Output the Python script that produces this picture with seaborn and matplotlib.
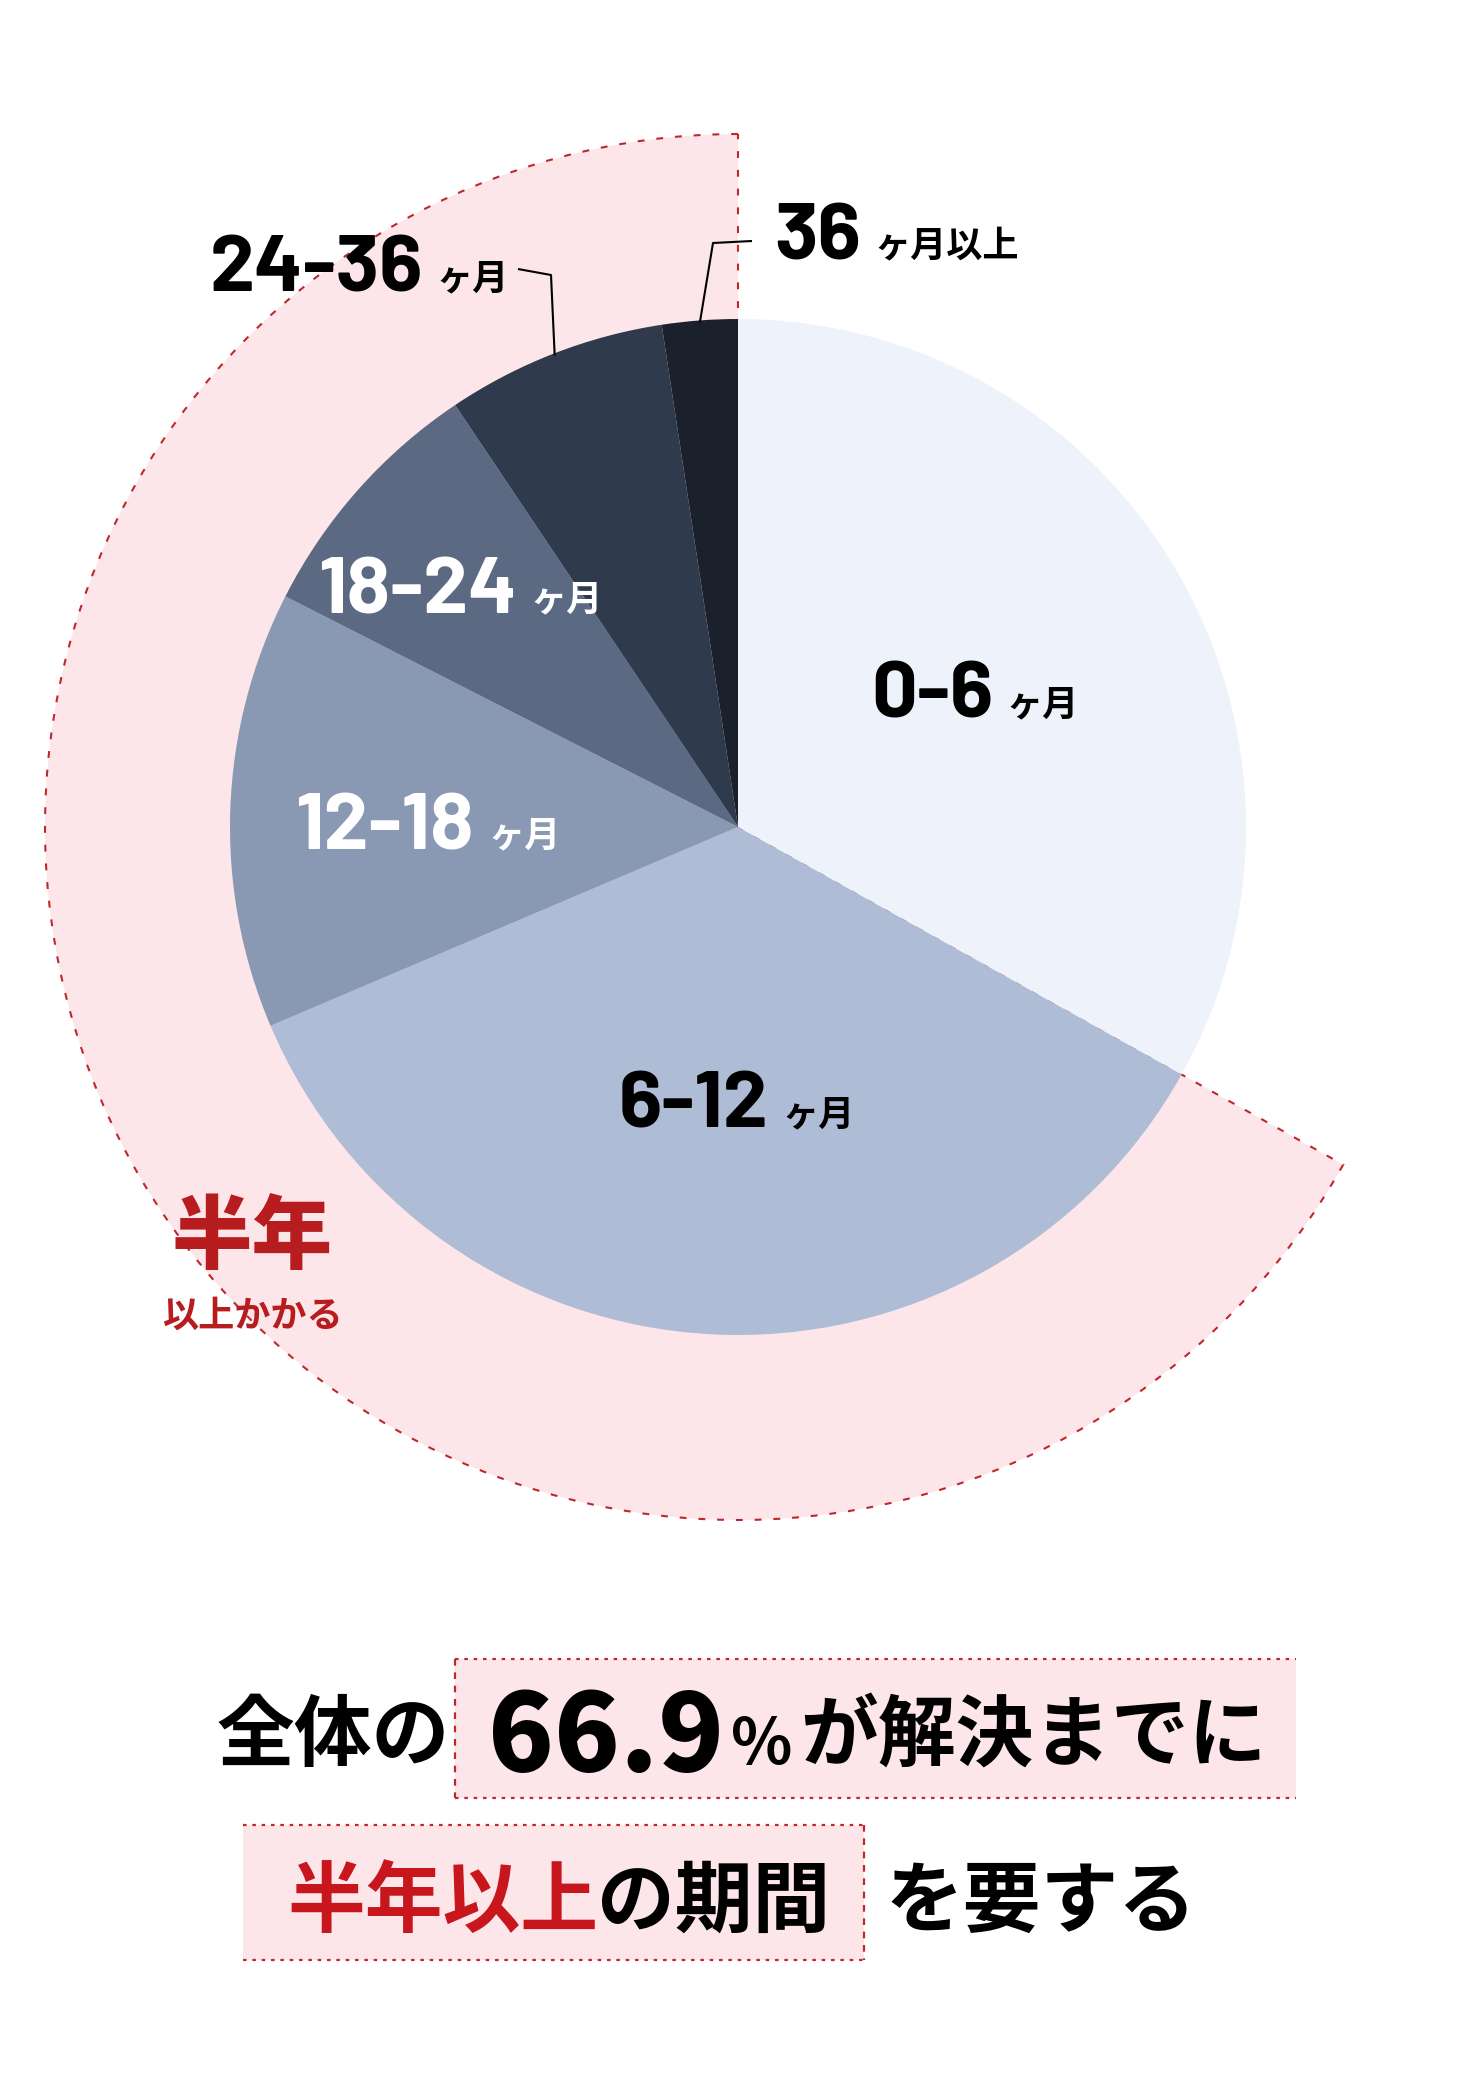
import matplotlib
matplotlib.use("Agg")
import matplotlib.pyplot as plt
from matplotlib.patches import Wedge, Rectangle
import numpy as np
import seaborn as sns

W, H = 1481, 2081

# resolution time buckets (months) and their share of cases, %
periods = ["0-6", "6-12", "12-18", "18-24", "24-36", "36"]
units = ["ヶ月", "ヶ月", "ヶ月", "ヶ月", "ヶ月", "ヶ月以上"]
shares = [33.1, 35.5, 13.9, 8.1, 7.0, 2.4]
slice_colors = ["#eef3fb", "#afbcd5", "#8a99b3", "#5c6982", "#2f3a4c", "#1b212c"]
label_colors = ["black", "black", "white", "white", "black", "black"]

headline_pct = "66.9"

PINK = "#fce6e9"
RED = "#c0272d"
RED_TXT = "#c8161d"

sns.set_theme(style="white")
NUM_FONT = ["Barlow", "Barlow Semi Condensed", "Noto Sans CJK JP", "DejaVu Sans"]
JP_FONT = ["Noto Sans CJK JP", "DejaVu Sans"]
plt.rcParams["font.family"] = JP_FONT

fig = plt.figure(figsize=(W / 100, H / 100), dpi=100)
ax = fig.add_axes([0, 0, 1, 1])

cx, cy = 738, H - 827
R = 508
R_OUT = 693

# pie
wedges, _ = ax.pie(shares, colors=slice_colors, startangle=90, counterclock=False,
                   center=(cx, cy), radius=R, frame=True,
                   wedgeprops=dict(linewidth=0))

# highlight band behind everything past 6 months
first = 360 * shares[0] / sum(shares)
band = Wedge((cx, cy), R_OUT, 90, 90 + 360 - first, facecolor=PINK, edgecolor=RED,
             linewidth=1.5, linestyle=(0, (3.3, 5.7)), zorder=0)
ax.add_patch(band)

# slice labels (position = split point between number and unit, baseline)
label_xy = [(1000, 718), (775, 1128), (481, 849), (524, 613), (430, 292), (868, 259)]
for p, u, c, (x, y) in zip(periods, units, label_colors, label_xy):
    ax.text(x - 7, H - y, p, ha="right", va="baseline", fontsize=58,
            fontweight="bold", family=NUM_FONT, color=c)
    ax.text(x + 7, H - y + 3, u, ha="left", va="baseline", fontsize=26,
            fontweight="bold", family=JP_FONT, color=c)

# leader lines for the two thin slices
elbows = {4: [(518, 269), (551, 275)], 5: [(752, 241), (713, 243)]}
for i, pts in elbows.items():
    w = wedges[i]
    mid = np.deg2rad((w.theta1 + w.theta2) / 2)
    ex = cx + (R - 2) * np.cos(mid)
    ey = cy + (R - 2) * np.sin(mid)
    xs = [p[0] for p in pts] + [ex]
    ys = [H - p[1] for p in pts] + [ey]
    ax.plot(xs, ys, color="black", linewidth=1.5, solid_capstyle="butt", zorder=3)

# band caption
ax.text(252, H - 1262, "半年", ha="center", va="baseline", fontsize=58,
        fontweight="heavy", color="#b71c1e")
ax.text(252, H - 1327, "以上かかる", ha="center", va="baseline", fontsize=26,
        fontweight="bold", color="#b71c1e")

# bottom headline boxes
def box(x0, y0, x1, y1, side):
    ax.add_patch(Rectangle((x0, H - y1), x1 - x0, y1 - y0, facecolor=PINK,
                           edgecolor="none", zorder=0))
    for yy in (y0, y1):
        ax.plot([x0, x1], [H - yy, H - yy], color=RED, linewidth=1.6,
                linestyle=(0, (1.6, 2.6)), zorder=1)
    sx = x0 if side == "left" else x1
    ax.plot([sx, sx], [H - y0, H - y1], color=RED, linewidth=1.6,
            linestyle=(0, (3, 3)), zorder=1)

box(455, 1659, 1296, 1798, "left")
box(243, 1825, 864, 1960, "right")

ax.text(216, H - 1760, "全体の", ha="left", va="baseline", fontsize=56,
        fontweight="bold", color="black")
ax.text(724, H - 1771, headline_pct, ha="right", va="baseline", fontsize=78,
        fontweight="heavy", color="black")
ax.text(731, H - 1764, "%", ha="left", va="baseline", fontsize=46,
        fontweight="bold", color="black")
ax.text(800, H - 1760, "が解決までに", ha="left", va="baseline", fontsize=56,
        fontweight="bold", color="black")

ax.text(287, H - 1926, "半年以上", ha="left", va="baseline", fontsize=56,
        fontweight="bold", color=RED_TXT)
ax.text(597, H - 1926, "の期間", ha="left", va="baseline", fontsize=56,
        fontweight="bold", color="black")
ax.text(886, H - 1926, "を要する", ha="left", va="baseline", fontsize=56,
        fontweight="bold", color="black")

ax.set_xlim(0, W)
ax.set_ylim(0, H)
ax.set_aspect("equal")
ax.axis("off")

fig.savefig("out.png", dpi=100, facecolor="white")
